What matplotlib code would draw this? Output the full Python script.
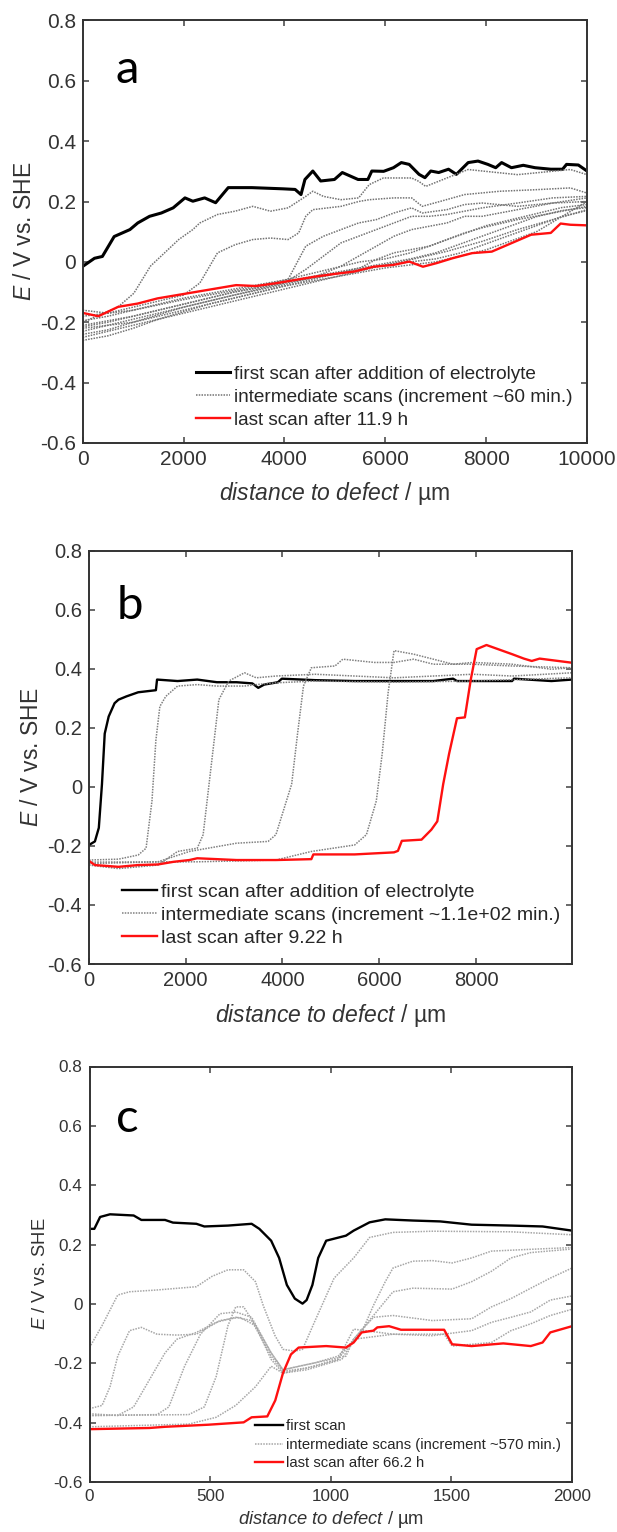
import matplotlib
matplotlib.use("Agg")
import matplotlib.pyplot as plt
from matplotlib.ticker import FuncFormatter

plt.rcParams['font.family'] = ['Liberation Sans', 'DejaVu Sans']
plt.rcParams['mathtext.fontset'] = 'custom'
plt.rcParams['mathtext.rm'] = 'Liberation Sans'
plt.rcParams['mathtext.it'] = 'Liberation Sans:italic'

# ---------------- panel a ----------------
a_first_x = [0, 234, 390, 624, 936, 1092, 1326, 1560, 1794, 2028, 2184, 2418, 2636, 2886,
             3354, 3978, 4212, 4329, 4407, 4563, 4719, 4992, 5148, 5460, 5655, 5733, 5967,
             6162, 6318, 6474, 6669, 6786, 6903, 7059, 7254, 7410, 7644, 7839, 8034, 8190,
             8307, 8502, 8736, 8970, 9282, 9516, 9594, 9828, 10000]
a_first_y = [-0.015, 0.012, 0.018, 0.084, 0.107, 0.129, 0.151, 0.162, 0.179, 0.212, 0.201,
             0.212, 0.196, 0.246, 0.246, 0.242, 0.240, 0.223, 0.273, 0.301, 0.268, 0.273,
             0.296, 0.273, 0.273, 0.301, 0.300, 0.312, 0.329, 0.323, 0.290, 0.279, 0.301,
             0.296, 0.307, 0.290, 0.329, 0.334, 0.323, 0.312, 0.329, 0.312, 0.320, 0.312,
             0.307, 0.307, 0.323, 0.321, 0.301]

a_last_x = [0, 312, 702, 1092, 1482, 1872, 2262, 2652, 3042, 3432, 3822, 4212, 4602, 4992,
            5382, 5772, 6162, 6474, 6747, 7020, 7332, 7722, 8112, 8502, 8892, 9282, 9477,
            9672, 10000]
a_last_y = [-0.169, -0.180, -0.149, -0.138, -0.121, -0.110, -0.099, -0.088, -0.077, -0.080,
            -0.071, -0.060, -0.049, -0.040, -0.032, -0.016, -0.010, 0.001, -0.016, -0.004,
            0.012, 0.029, 0.034, 0.062, 0.090, 0.096, 0.127, 0.123, 0.121]

a_mid_x = [
    [0, 702, 1014, 1344, 1624, 1904, 2183, 2323, 2673, 3023, 3373, 3723, 4073, 4423, 4563,
     4773, 5122, 5472, 5682, 5962, 6522, 6662, 6802, 7642, 8621, 9671, 10000],
    [0, 500, 1000, 1500, 2000, 2323, 2673, 3023, 3373, 3723, 4073, 4283, 4423, 4563, 5122,
     5472, 5682, 6172, 6522, 6732, 7082, 7572, 8271, 8971, 9671, 10000],
    [0, 1000, 2000, 3000, 3500, 4073, 4283, 4423, 4773, 5122, 5472, 5822, 6172, 6522, 6732,
     7222, 7572, 7922, 8621, 9321, 10000],
    [0, 1000, 2000, 3000, 4000, 4423, 4773, 5122, 5472, 5822, 6172, 6522, 6872, 7222, 7922,
     8621, 9321, 10000],
    [0, 1000, 2000, 3000, 4000, 4600, 5122, 5472, 5822, 6172, 6522, 6872, 7222, 7572, 7922,
     8621, 9321, 10000],
    [0, 1000, 2000, 3000, 4000, 5000, 5500, 5822, 6172, 6522, 6872, 7222, 7572, 7922, 8621,
     9321, 10000],
    [0, 1000, 2000, 3000, 4000, 5000, 6000, 6522, 7222, 7922, 8621, 9321, 10000],
    [0, 500, 1000, 1500, 2000, 2500, 3000, 3500, 4000, 4500, 5000, 5500, 6000, 6500, 7000,
     7500, 8000, 8500, 9000, 9500, 10000],
    [0, 500, 1000, 1500, 2000, 2500, 3000, 3500, 4000, 4500, 5000, 5500, 6000, 6500, 7000,
     7500, 8000, 8500, 9000, 9500, 10000],
    [0, 500, 1000, 1500, 2000, 2500, 3000, 3500, 4000, 4500, 5000, 5500, 6000, 6500, 7000,
     7500, 8000, 8500, 9000, 9500, 10000],
    [0, 500, 1000, 1500, 2000, 2500, 3000, 3500, 4000, 5000, 6000, 7000, 8000, 9000, 10000],
]
a_mid_y = [
    [-0.20, -0.149, -0.104, -0.014, 0.030, 0.074, 0.107, 0.129, 0.157, 0.168, 0.184, 0.168,
     0.179, 0.217, 0.234, 0.217, 0.206, 0.212, 0.256, 0.278, 0.278, 0.267, 0.250, 0.306,
     0.289, 0.306, 0.289],
    [-0.16, -0.17, -0.15, -0.13, -0.11, -0.07, 0.03, 0.057, 0.074, 0.079, 0.074, 0.096,
     0.151, 0.173, 0.184, 0.200, 0.206, 0.212, 0.212, 0.184, 0.200, 0.223, 0.234, 0.239,
     0.245, 0.228],
    [-0.18, -0.16, -0.125, -0.095, -0.08, -0.058, 0.008, 0.052, 0.085, 0.107, 0.129, 0.140,
     0.162, 0.179, 0.162, 0.173, 0.190, 0.195, 0.184, 0.195, 0.200],
    [-0.21, -0.18, -0.14, -0.10, -0.07, -0.025, 0.019, 0.063, 0.085, 0.107, 0.129, 0.151,
     0.151, 0.157, 0.179, 0.195, 0.212, 0.217],
    [-0.23, -0.19, -0.15, -0.11, -0.075, -0.05, -0.014, 0.019, 0.052, 0.085, 0.107, 0.118,
     0.129, 0.151, 0.151, 0.173, 0.195, 0.212],
    [-0.22, -0.20, -0.16, -0.12, -0.08, -0.04, -0.02, 0.008, 0.030, 0.041, 0.052, 0.074,
     0.096, 0.113, 0.140, 0.162, 0.184],
    [-0.25, -0.21, -0.17, -0.13, -0.09, -0.05, -0.01, 0.008, 0.035, 0.068, 0.107, 0.140,
     0.173],
    [-0.195, -0.18, -0.16, -0.14, -0.12, -0.105, -0.09, -0.075, -0.06, -0.04, -0.02, 0.0,
     0.01, 0.03, 0.06, 0.09, 0.12, 0.14, 0.16, 0.18, 0.19],
    [-0.215, -0.20, -0.18, -0.16, -0.14, -0.12, -0.10, -0.085, -0.065, -0.05, -0.035, -0.02,
     -0.005, 0.01, 0.03, 0.06, 0.09, 0.12, 0.15, 0.17, 0.18],
    [-0.24, -0.225, -0.20, -0.175, -0.15, -0.13, -0.11, -0.09, -0.07, -0.055, -0.04, -0.025,
     -0.01, 0.0, 0.01, 0.03, 0.06, 0.09, 0.12, 0.15, 0.17],
    [-0.26, -0.245, -0.22, -0.19, -0.165, -0.14, -0.12, -0.10, -0.08, -0.05, -0.02, 0.0,
     0.04, 0.10, 0.20],
]

# ---------------- panel b ----------------
b_first_x = [0, 122, 203, 268, 325, 407, 529, 610, 773, 1017, 1383, 1407, 1831, 2238, 2645,
             3051, 3377, 3499, 3621, 3906, 3987, 4679, 5492, 6306, 7120, 7527, 7608, 8747,
             8787, 9561, 9986]
b_first_y = [-0.197, -0.185, -0.139, 0.009, 0.180, 0.238, 0.283, 0.295, 0.306, 0.320, 0.327,
             0.363, 0.358, 0.363, 0.354, 0.354, 0.350, 0.335, 0.346, 0.354, 0.366, 0.361,
             0.358, 0.358, 0.358, 0.366, 0.358, 0.358, 0.366, 0.358, 0.363]

b_last_x = [0, 122, 610, 1017, 1424, 1749, 2075, 2238, 3051, 3865, 4597, 4638, 5492, 6306,
            6387, 6468, 6875, 7079, 7201, 7323, 7445, 7608, 7771, 7893, 8015, 8218, 8747,
            8991, 9154, 9317, 9986]
b_last_y = [-0.251, -0.265, -0.271, -0.265, -0.263, -0.254, -0.248, -0.242, -0.248, -0.248,
            -0.245, -0.229, -0.229, -0.222, -0.217, -0.183, -0.179, -0.145, -0.117, 0.009,
            0.112, 0.232, 0.235, 0.363, 0.466, 0.480, 0.449, 0.434, 0.426, 0.434, 0.420]

b_mid_x = [
    [0, 610, 1017, 1180, 1302, 1383, 1465, 1587, 1831, 2238, 2645, 3214, 3458, 3865, 4679,
     6306, 7934, 9986],
    [0, 610, 1424, 1831, 2238, 2360, 2482, 2604, 2685, 2889, 3214, 3458, 3865, 4679, 5492,
     6306, 7120, 7934, 8747, 9986],
    [0, 1424, 2075, 3051, 3702, 3865, 4190, 4312, 4434, 4597, 5085, 5248, 5899, 6306, 6712,
     7120, 7934, 8747, 9986],
    [0, 2238, 3865, 4597, 5492, 5736, 5940, 6062, 6184, 6306, 6712, 7120, 7527, 7934, 8747,
     9561, 9986],
]
b_mid_y = [
    [-0.248, -0.245, -0.231, -0.208, -0.048, 0.158, 0.272, 0.306, 0.341, 0.346, 0.341,
     0.341, 0.346, 0.352, 0.358, 0.354, 0.358, 0.369],
    [-0.265, -0.277, -0.265, -0.219, -0.208, -0.162, 0.009, 0.180, 0.295, 0.358, 0.386,
     0.369, 0.375, 0.381, 0.375, 0.369, 0.375, 0.381, 0.375, 0.386],
    [-0.260, -0.254, -0.219, -0.191, -0.185, -0.162, 0.009, 0.180, 0.341, 0.403, 0.409,
     0.432, 0.421, 0.421, 0.432, 0.415, 0.415, 0.409, 0.403],
    [-0.255, -0.254, -0.248, -0.219, -0.197, -0.162, -0.048, 0.112, 0.318, 0.461, 0.449,
     0.432, 0.415, 0.421, 0.415, 0.398, 0.403],
]

# ---------------- panel c ----------------
c_first_x = [0, 20, 44, 85, 183, 215, 313, 346, 443, 476, 574, 672, 704, 753, 786, 818, 851,
             883, 900, 924, 948, 981, 1063, 1095, 1161, 1226, 1340, 1454, 1584, 1747, 1878,
             2000]
c_first_y = [0.253, 0.253, 0.293, 0.302, 0.298, 0.283, 0.283, 0.274, 0.270, 0.261, 0.264,
             0.270, 0.253, 0.213, 0.155, 0.064, 0.018, 0.001, 0.013, 0.064, 0.155, 0.213,
             0.230, 0.247, 0.275, 0.285, 0.281, 0.278, 0.267, 0.264, 0.261, 0.247]

c_last_x = [0, 248, 313, 492, 639, 672, 737, 770, 802, 835, 867, 981, 1063, 1095, 1128, 1177,
            1193, 1242, 1291, 1470, 1503, 1584, 1715, 1829, 1878, 1910, 2000]
c_last_y = [-0.422, -0.418, -0.414, -0.407, -0.399, -0.382, -0.379, -0.325, -0.233, -0.170,
            -0.147, -0.142, -0.147, -0.130, -0.096, -0.090, -0.079, -0.075, -0.087, -0.087,
            -0.136, -0.142, -0.133, -0.142, -0.130, -0.096, -0.075]

c_mid_x = [
    [0, 52, 117, 166, 280, 443, 508, 574, 639, 688, 720, 769, 802, 851, 883, 932, 1014, 1095,
     1161, 1258, 1421, 1747, 2000],
    [0, 52, 85, 117, 166, 215, 280, 362, 443, 541, 622, 688, 753, 802, 867, 932, 1030, 1128,
     1177, 1226, 1258, 1340, 1421, 1503, 1584, 1666, 1829, 2000],
    [0, 117, 183, 248, 313, 362, 443, 525, 606, 672, 753, 802, 900, 1030, 1095, 1177, 1258,
     1340, 1503, 1584, 1666, 1747, 1829, 2000],
    [0, 280, 329, 394, 460, 541, 606, 672, 753, 802, 932, 1063, 1095, 1177, 1258, 1421, 1584,
     1666, 1747, 1829, 1910, 2000],
    [0, 411, 476, 525, 574, 606, 639, 688, 753, 802, 932, 1030, 1095, 1258, 1421, 1584, 1666,
     1747, 1829, 1910, 2000],
    [0, 411, 525, 606, 688, 753, 802, 900, 1046, 1095, 1258, 1470, 1503, 1666, 1747, 1829,
     1910, 2000],
]
c_mid_y = [
    [-0.147, -0.073, 0.030, 0.041, 0.047, 0.058, 0.093, 0.115, 0.115, 0.075, -0.005, -0.107,
     -0.153, -0.159, -0.153, -0.062, 0.087, 0.155, 0.224, 0.241, 0.245, 0.243, 0.233],
    [-0.353, -0.342, -0.279, -0.176, -0.090, -0.079, -0.102, -0.105, -0.102, -0.056, -0.045,
     -0.073, -0.165, -0.222, -0.210, -0.199, -0.176, -0.096, -0.005, 0.075, 0.121, 0.144,
     0.146, 0.138, 0.155, 0.178, 0.184, 0.190],
    [-0.370, -0.376, -0.347, -0.256, -0.165, -0.119, -0.096, -0.062, -0.045, -0.056, -0.176,
     -0.227, -0.216, -0.187, -0.119, -0.039, 0.041, 0.053, 0.050, 0.075, 0.110, 0.155, 0.173,
     0.185],
    [-0.376, -0.373, -0.347, -0.210, -0.102, -0.033, -0.027, -0.045, -0.165, -0.222, -0.199,
     -0.176, -0.119, -0.045, -0.039, -0.056, -0.050, -0.010, 0.018, 0.053, 0.087, 0.121],
    [-0.376, -0.373, -0.347, -0.245, -0.073, -0.010, -0.010, -0.073, -0.187, -0.233, -0.210,
     -0.187, -0.085, -0.102, -0.107, -0.090, -0.062, -0.045, -0.027, 0.013, 0.027],
    [-0.414, -0.405, -0.382, -0.342, -0.279, -0.210, -0.233, -0.222, -0.187, -0.119, -0.102,
     -0.102, -0.142, -0.130, -0.090, -0.067, -0.039, -0.018],
]

legend_a = ['first scan after addition of electrolyte',
            'intermediate scans (increment ~60 min.)',
            'last scan after 11.9 h']
legend_b = ['first scan after addition of electrolyte',
            'intermediate scans (increment ~1.1e+02 min.)',
            'last scan after 9.22 h']
legend_c = ['first scan',
            'intermediate scans (increment ~570 min.)',
            'last scan after 66.2 h']

W, H = 617, 1532
fig = plt.figure(figsize=(W / 100, H / 100), dpi=100)


def box(x0, y0, x1, y1):
    # pixel box (top-left origin) -> figure fraction
    return [x0 / W, 1 - y1 / H, (x1 - x0) / W, (y1 - y0) / H]


def style(ax, xmax, xticks, fs, lfs, xpad):
    ax.set_xlim(0, xmax)
    ax.set_ylim(-0.6, 0.8)
    ax.set_xticks(xticks)
    ax.set_yticks([-0.6, -0.4, -0.2, 0, 0.2, 0.4, 0.6, 0.8])
    ax.yaxis.set_major_formatter(FuncFormatter(lambda v, p: '%g' % round(v, 1)))
    ax.tick_params(direction='in', length=4, width=1.1, top=True, right=True,
                   labelsize=fs, colors='0.25', labelcolor='0.2', pad=5)
    for s in ax.spines.values():
        s.set_linewidth(1.4)
        s.set_color('0.2')
    ax.set_ylabel(r'$E$ / V vs. SHE', fontsize=lfs, color='0.2', labelpad=3)
    ax.set_xlabel(r'$distance\ to\ defect$ / µm', fontsize=lfs, color='0.2',
                  labelpad=xpad)


def draw(ax, fx, fy, mx, my, lx, ly, labels, glw, gcol, blw, fs, anchor, hl, sp):
    h1, = ax.plot(fx, fy, color='black', lw=blw)
    h2 = None
    for xs, ys in zip(mx, my):
        h, = ax.plot(xs, ys, color=gcol, lw=glw, ls=(0, (1, 0.8)))
        h2 = h2 or h
    h3, = ax.plot(lx, ly, color='#ff1010', lw=1.7)
    ax.legend([h1, h2, h3], labels, loc='center left', bbox_to_anchor=anchor,
              frameon=False, fontsize=fs, borderpad=0, borderaxespad=0,
              handlelength=hl, handletextpad=0.2, labelspacing=sp,
              labelcolor='0.15')


ax_a = fig.add_axes(box(82.7, 20.4, 587, 443))
draw(ax_a, a_first_x, a_first_y, a_mid_x, a_mid_y, a_last_x, a_last_y, legend_a,
     1.1, '0.45', 2.2, 13.7, (0.225, 0.109), 1.8, 0.3)
style(ax_a, 10000, range(0, 10001, 2000), 15, 16.5, 8)
ax_a.text(0.066, 0.851, 'a', transform=ax_a.transAxes, fontsize=34, family='Lato')

ax_b = fig.add_axes(box(89, 550.5, 572, 964))
draw(ax_b, b_first_x, b_first_y, b_mid_x, b_mid_y, b_last_x, b_last_y, legend_b,
     1.1, '0.5', 1.7, 14.0, (0.068, 0.1185), 1.8, 0.28)
style(ax_b, 9986, range(0, 8001, 2000), 14.5, 16.5, 9)
ax_b.text(0.058, 0.834, 'b', transform=ax_b.transAxes, fontsize=34, family='Lato')

ax_c = fig.add_axes(box(89.5, 1066.5, 572, 1482))
draw(ax_c, c_first_x, c_first_y, c_mid_x, c_mid_y, c_last_x, c_last_y, legend_c,
     1.1, '0.65', 1.7, 10.7, (0.343, 0.0897), 1.9, 0.3)
style(ax_c, 2000, range(0, 2001, 500), 12.3, 13.2, 4)
ax_c.text(0.055, 0.842, 'c', transform=ax_c.transAxes, fontsize=34, family='Lato')

fig.savefig('out.png', dpi=100)
